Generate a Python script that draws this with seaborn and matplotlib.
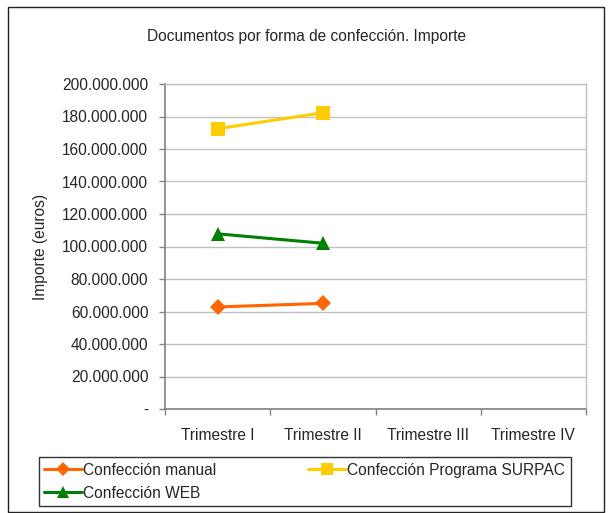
import matplotlib
matplotlib.use("Agg")
import matplotlib.pyplot as plt
from matplotlib.patches import Rectangle
from matplotlib.lines import Line2D
import seaborn as sns
import pandas as pd
import numpy as np

# Quarters shown on the axis and importe (euros) per form of preparation
trimestres = ["Trimestre I", "Trimestre II", "Trimestre III", "Trimestre IV"]
series = ["Confección manual", "Confección Programa SURPAC", "Confección WEB"]
manual = [62_800_000, 65_000_000, np.nan, np.nan]
surpac = [172_500_000, 182_300_000, np.nan, np.nan]
web = [107_800_000, 102_000_000, np.nan, np.nan]

colores = {series[0]: "#FF6600", series[1]: "#FFCC00", series[2]: "#008000"}
marcadores = {series[0]: "D", series[1]: "s", series[2]: "^"}
tamanos = {series[0]: 8, series[1]: 10, series[2]: 10}

df = pd.DataFrame({
    "pos": list(range(len(trimestres))) * 3,
    "importe": manual + surpac + web,
    "serie": [s for s in series for _ in trimestres],
})

sns.set_theme(style="white")
plt.rcParams["font.family"] = ["Liberation Sans", "DejaVu Sans"]
fs = 11.2

fig = plt.figure(figsize=(6.09, 5.13), dpi=100)
ax = fig.add_axes([165 / 609, 1 - 409 / 513, 421 / 609, 325 / 513])

for s in series:
    sns.lineplot(data=df[df["serie"] == s].dropna(), x="pos", y="importe",
                 color=colores[s], marker=marcadores[s], markersize=tamanos[s],
                 markeredgewidth=0, linewidth=2.2, ax=ax, legend=False)

ax.set_xlim(-0.5, 3.5)
ax.set_ylim(0, 200_000_000)
yt = np.arange(0, 200_000_001, 20_000_000)
ax.set_yticks(yt)
ax.set_yticklabels(["-" if v == 0 else f"{v:,.0f}".replace(",", ".") for v in yt],
                   fontsize=fs)
ax.set_xticks(range(len(trimestres)))
ax.set_xticklabels(trimestres, fontsize=fs)
ax.set_xticks(np.arange(-0.5, 3.6, 1.0), minor=True)
ax.tick_params(axis="x", which="major", length=0, pad=14)
ax.tick_params(axis="x", which="minor", length=4, width=1, color="#808080", direction="out", bottom=True)
ax.tick_params(axis="y", length=4, width=1, color="#808080", direction="out", left=True, pad=8)
ax.set_xlabel("")
ax.set_ylabel("Importe (euros)", fontsize=fs, labelpad=10)
ax.yaxis.grid(True, color="#c0c0c0", linewidth=1)
ax.xaxis.grid(False)
for side in ["top", "right"]:
    ax.spines[side].set_color("#c0c0c0")
    ax.spines[side].set_linewidth(1)
for side in ["left", "bottom"]:
    ax.spines[side].set_color("#808080")
    ax.spines[side].set_linewidth(1.2)

fig.text(0.503, 1 - 36 / 513, "Documentos por forma de confección. Importe",
         ha="center", va="center", fontsize=fs)

fig.patches.append(Rectangle((8 / 609, 1 / 513), 596 / 609, 505 / 513,
                             transform=fig.transFigure, fill=False,
                             edgecolor="#222222", linewidth=1))

# Legend reads row by row: manual, SURPAC / WEB (columns fill top to bottom)
orden = [series[0], series[2], series[1]]
handles = [Line2D([], [], color=colores[s], marker=marcadores[s],
                  markersize=tamanos[s] - 1, markeredgewidth=0, linewidth=2.2)
           for s in orden]
leg = fig.legend(handles, orden, ncol=2, fontsize=fs,
                 loc="lower left",
                 bbox_to_anchor=(39 / 609, 1 - 506 / 513),
                 frameon=True, fancybox=False, borderaxespad=0,
                 handlelength=2.4, handletextpad=0.1, borderpad=0.35,
                 labelspacing=0.5, columnspacing=5.9)
leg.get_frame().set_edgecolor("#000000")
leg.get_frame().set_linewidth(1)

fig.savefig("out.png", dpi=100)
